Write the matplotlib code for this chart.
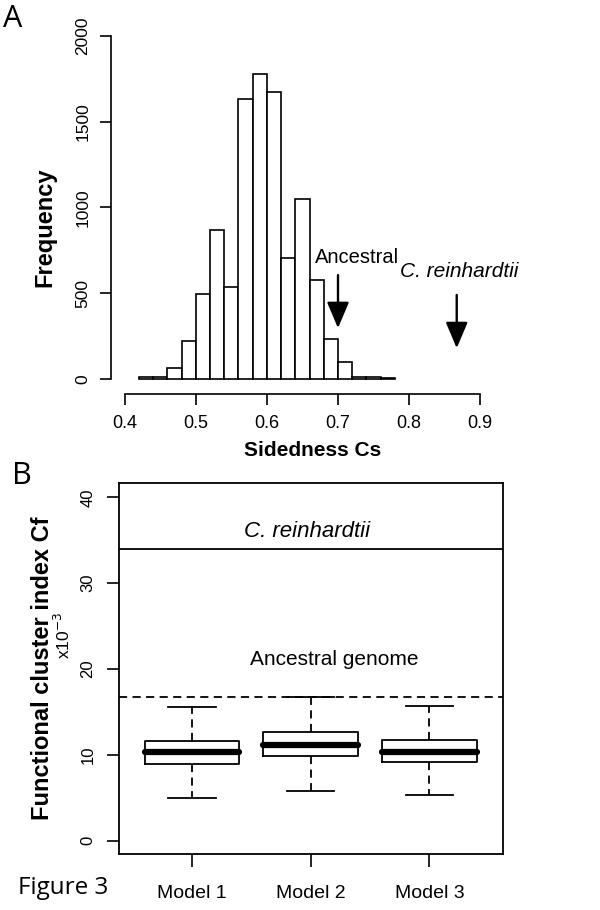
import matplotlib
matplotlib.use('Agg')
from matplotlib import pyplot as plt

plt.rcParams['font.family'] = ['Liberation Sans', 'DejaVu Sans']

# Panel A: histogram of sidedness Cs
bin_edges = [0.42, 0.44, 0.46, 0.48, 0.50, 0.52, 0.54, 0.56, 0.58, 0.60,
             0.62, 0.64, 0.66, 0.68, 0.70, 0.72, 0.74, 0.76, 0.78]
counts = [14, 14, 62, 221, 493, 866, 538, 1631, 1779, 1672,
          703, 1047, 579, 233, 101, 10, 10, 4]
ancestral_cs = 0.70
reinhardtii_cs = 0.867

# Panel B: boxplots of functional cluster index Cf (x10^-3)
models = ['Model 1', 'Model 2', 'Model 3']
whis_lo = [5.0, 5.75, 5.28]
q1 = [8.97, 9.82, 9.12]
medians = [10.29, 11.14, 10.37]
q3 = [11.6, 12.62, 11.76]
whis_hi = [15.57, 16.77, 15.69]
reinhardtii_cf = 34.0
ancestral_cf = 16.73

fig = plt.figure(figsize=(6, 9.1), dpi=100)

# ---------------- panel A
axA = fig.add_axes([111/600, 1-394/910, 409/600, 364/910])
axA.bar(bin_edges[:-1], counts, width=0.02, align='edge',
        facecolor='white', edgecolor='black', linewidth=1.2)
axA.set_xlim(0.3807, 0.956)
axA.set_ylim(-87.5, 2035)
for s in ['top', 'right']:
    axA.spines[s].set_visible(False)
axA.spines['left'].set_bounds(0, 2000)
axA.spines['bottom'].set_bounds(0.4, 0.9)
for s in ['left', 'bottom']:
    axA.spines[s].set_linewidth(1.2)
axA.set_xticks([0.4, 0.5, 0.6, 0.7, 0.8, 0.9])
axA.set_xticklabels(['0.4', '0.5', '0.6', '0.7', '0.8', '0.9'])
axA.set_yticks([0, 500, 1000, 1500, 2000])
axA.tick_params(axis='both', length=8, width=1.2, pad=7)
axA.tick_params(axis='x', labelsize=13)
axA.tick_params(axis='y', labelsize=12.5, labelrotation=90)
for lab in axA.get_yticklabels():
    lab.set_va('center')

axA.set_ylabel('Frequency', fontsize=17, fontweight='bold', va='center')
axA.yaxis.set_label_coords(-0.161, 0.459)
axA.set_xlabel('Sidedness Cs', fontsize=15, fontweight='bold', va='center')
axA.xaxis.set_label_coords(0.494, -0.154)

arrow = dict(arrowstyle='-|>,head_length=0.8,head_width=0.34', lw=1.7,
             color='black', shrinkA=0, shrinkB=0, mutation_scale=20)
axA.annotate('', xy=(ancestral_cs, 297), xytext=(ancestral_cs, 606), arrowprops=arrow)
axA.text(0.727, 711, 'Ancestral', fontsize=14.5, ha='center', va='center')
axA.annotate('', xy=(reinhardtii_cs, 180), xytext=(reinhardtii_cs, 490), arrowprops=arrow)
axA.text(0.87, 625, 'C. reinhardtii', fontsize=15, style='italic', ha='center', va='center')

# ---------------- panel B
axB = fig.add_axes([119/600, 1-854/910, 384/600, 371/910])
stats = []
for i in range(len(models)):
    stats.append(dict(med=medians[i], q1=q1[i], q3=q3[i],
                      whislo=whis_lo[i], whishi=whis_hi[i], fliers=[]))
axB.bxp(stats, positions=[1, 2, 3], widths=0.8, showfliers=False,
        boxprops=dict(color='black', linewidth=1.3),
        whiskerprops=dict(color='black', linewidth=1.3, linestyle=(0, (4.5, 3))),
        capprops=dict(color='black', linewidth=1.3),
        medianprops=dict(color='black', linewidth=4.5, solid_capstyle='round'))
axB.axhline(reinhardtii_cf, color='black', lw=1.3)
axB.axhline(ancestral_cf, color='black', lw=1.3, linestyle=(0, (4.5, 3)))
axB.text(1.97, 36.0, 'C. reinhardtii', fontsize=16, style='italic', ha='center', va='center')
axB.text(2.2, 21.1, 'Ancestral genome', fontsize=15, ha='center', va='center')

axB.set_xlim(0.385, 3.62)
axB.set_ylim(-1.55, 41.67)
for s in axB.spines.values():
    s.set_linewidth(1.3)
axB.set_xticks([1, 2, 3])
axB.set_xticklabels(models)
axB.set_yticks([0, 10, 20, 30, 40])
axB.tick_params(axis='both', length=9, width=1.2)
axB.tick_params(axis='x', labelsize=14, pad=13)
axB.tick_params(axis='y', labelsize=12, labelrotation=90, pad=8)
for lab in axB.get_yticklabels():
    lab.set_va('center')

axB.set_ylabel('Functional cluster index Cf', fontsize=17, fontweight='bold', va='center')
axB.yaxis.set_label_coords(-0.2, 0.501)
axB.text(-0.145, 0.59, r'x10$^{-3}$', transform=axB.transAxes, fontsize=12.5,
         rotation=90, ha='center', va='center')

# panel letters and figure caption
fig.text(0.005, 1-19/910, 'A', fontsize=22, family='Open Sans', va='center')
fig.text(0.02, 1-476/910, 'B', fontsize=22, family='Open Sans', va='center')
fig.text(0.03, 1-888/910, 'Figure 3', fontsize=17.5, family='Open Sans', va='center')

plt.savefig('out.png', dpi=100)
